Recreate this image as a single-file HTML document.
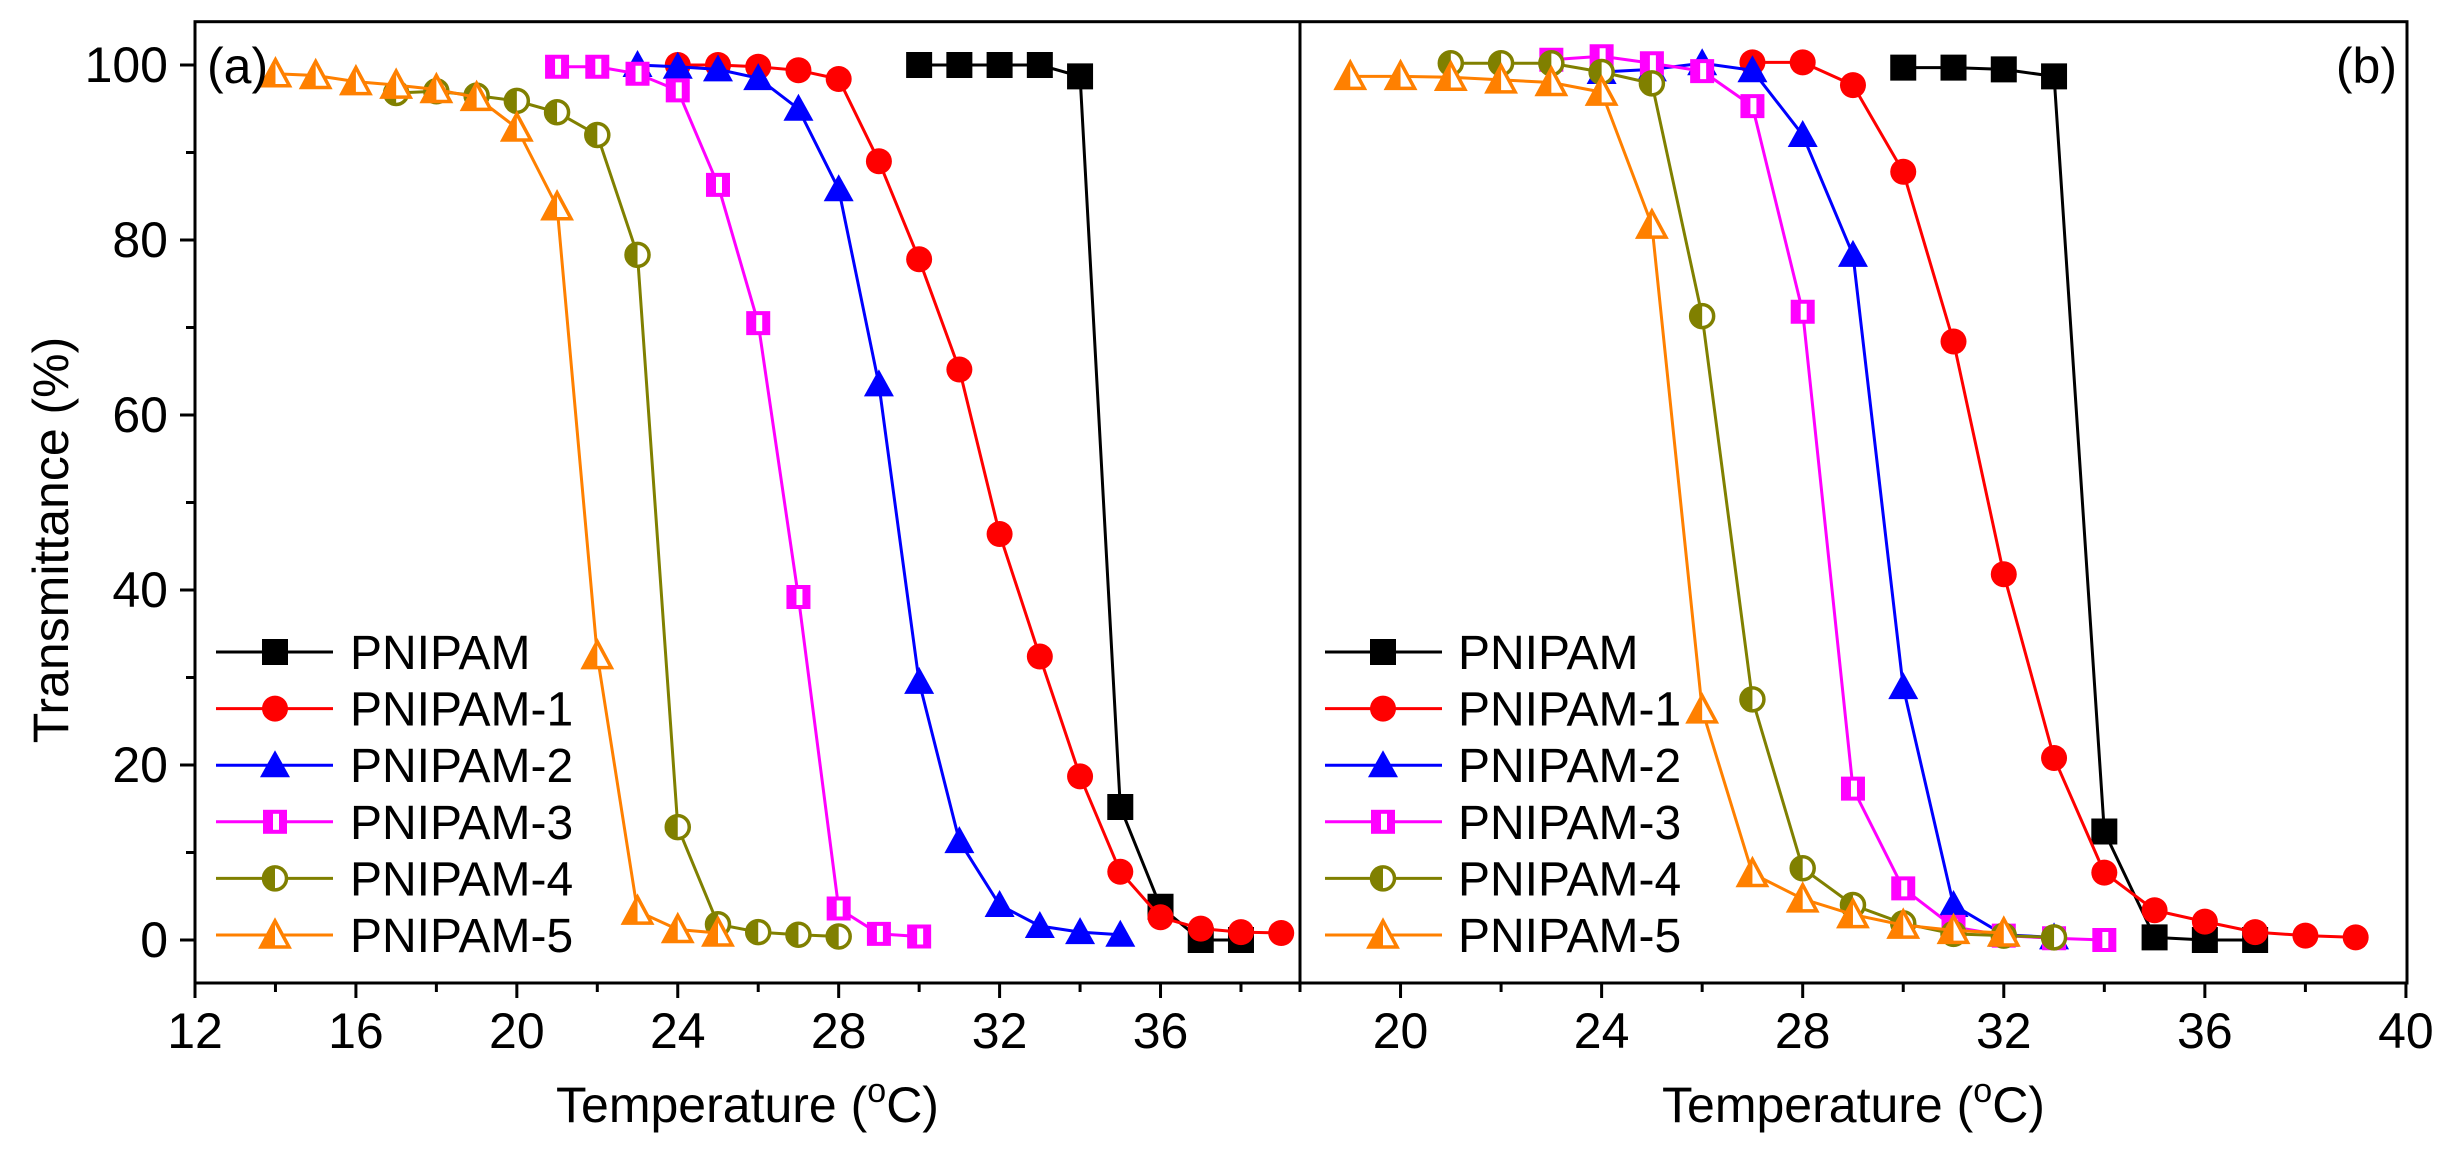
<!DOCTYPE html>
<html><head><meta charset="utf-8"><style>
html,body{margin:0;padding:0;background:#fff;}
svg{display:block;font-family:"Liberation Sans",Arial,sans-serif;}
</style></head><body>
<svg id="chart" width="2460" height="1152" viewBox="0 0 2460 1152" xmlns="http://www.w3.org/2000/svg">
<rect x="0" y="0" width="2460" height="1152" fill="#fff"/>
<g id="plot"></g>
</svg>
<script>
const seriesNames = ["PNIPAM","PNIPAM-1","PNIPAM-2","PNIPAM-3","PNIPAM-4","PNIPAM-5"];
const seriesColors = ["#000000","#ff0000","#0000ff","#ff00ff","#808000","#ff8000"];
const yTicks = [0,20,40,60,80,100];
const xTicksA = [12,16,20,24,28,32,36];
const xTicksB = [20,24,28,32,36,40];

// Panel (a) data
const aX0 = [30,31,32,33,34,35,36,37,38];
const aY0 = [100,100,100,100,98.7,15.2,3.8,0,0];
const aX1 = [24,25,26,27,28,29,30,31,32,33,34,35,36,37,38,39];
const aY1 = [100,100,99.8,99.4,98.4,89,77.8,65.2,46.4,32.4,18.7,7.8,2.6,1.3,0.9,0.8];
const aX2 = [23,24,25,26,27,28,29,30,31,32,33,34,35];
const aY2 = [100,99.8,99.5,98.5,95,85.8,63.5,29.5,11.3,4,1.6,0.9,0.6];
const aX3 = [21,22,23,24,25,26,27,28,29,30];
const aY3 = [99.8,99.8,99,97.1,86.3,70.5,39.2,3.6,0.7,0.4];
const aX4 = [17,18,19,20,21,22,23,24,25,26,27,28];
const aY4 = [96.8,97,96.5,95.9,94.6,92,78.3,12.9,1.8,0.9,0.6,0.4];
const aX5 = [14,15,16,17,18,19,20,21,22,23,24,25];
const aY5 = [99,98.8,98.1,97.7,97.2,96.3,92.8,83.8,32.5,3.3,1.2,0.8];

// Panel (b) data
const bX0 = [30,31,32,33,34,35,36,37];
const bY0 = [99.7,99.7,99.5,98.7,12.4,0.3,0,0];
const bX1 = [27,28,29,30,31,32,33,34,35,36,37,38,39];
const bY1 = [100.3,100.3,97.7,87.8,68.4,41.8,20.8,7.7,3.4,2.1,0.9,0.5,0.3];
const bX2 = [24,25,26,27,28,29,30,31,32,33];
const bY2 = [99.2,99.5,100.2,99.4,92,78.3,28.9,4,0.6,0.3];
const bX3 = [23,24,25,26,27,28,29,30,31,32,33,34];
const bY3 = [100.6,101,100.2,99.3,95.3,71.8,17.3,5.9,1.5,0.5,0.2,0];
const bX4 = [21,22,23,24,25,26,27,28,29,30,31,32,33];
const bY4 = [100.2,100.2,100.2,99.2,97.9,71.3,27.5,8.2,4,1.9,0.7,0.5,0.3];
const bX5 = [19,20,21,22,23,24,25,26,27,28,29,30,31,32];
const bY5 = [98.7,98.7,98.6,98.3,98,96.9,81.7,26.3,7.6,4.7,2.9,1.7,1.1,0.8];

const NS = "http://www.w3.org/2000/svg";
const root = document.getElementById("plot");
function mk(tag, attrs, parent){
  const e = document.createElementNS(NS, tag);
  for (const k in attrs) e.setAttribute(k, attrs[k]);
  (parent||root).appendChild(e);
  return e;
}
const yTop = 21.7, yBot = 983;
function yScale(v){ return 940 + (0 - v) * 8.75; }
const panelA = {x0:195, x1:1300, xmin:12, ppu:40.23, name:"a"};
const panelB = {x0:1300, x1:2407, xmin:18, ppu:50.27, name:"b"};
function xs(p, v){ return p.x0 + (v - p.xmin) * p.ppu; }

function marker(g, type, cx, cy, color){
  let e;
  if (type === 0){
    e = mk("rect",{x:cx-13,y:cy-13,width:26,height:26,fill:color},g);
  } else if (type === 1){
    e = mk("circle",{cx:cx,cy:cy,r:13,fill:color},g);
  } else if (type === 2){
    e = mk("polygon",{points:`${cx},${cy-15} ${cx-15},${cy+12} ${cx+15},${cy+12}`,fill:color},g);
  } else if (type === 3){
    e = mk("rect",{x:cx-12,y:cy-12,width:24,height:24,fill:color},g);
    mk("rect",{x:cx-2,y:cy-8,width:6,height:16,fill:"#fff"},g);
  } else if (type === 4){
    e = mk("circle",{cx:cx,cy:cy,r:11.5,fill:"#fff",stroke:color,"stroke-width":3.5},g);
    mk("path",{d:`M${cx},${cy-12} A12,12 0 0 0 ${cx},${cy+12} Z`,fill:color},g);
  } else {
    e = mk("polygon",{points:`${cx},${cy-14} ${cx-14},${cy+12} ${cx+14},${cy+12}`,fill:"#fff",stroke:color,"stroke-width":3.5,"stroke-linejoin":"miter"},g);
    mk("polygon",{points:`${cx},${cy-14} ${cx-14},${cy+12} ${cx},${cy+12}`,fill:color},g);
  }
  return e;
}

function drawPanel(p, xsArr, ysArr, ticks){
  const g = mk("g",{});
  
  
  for (let s = 0; s < 6; s++){
    const sg = mk("g",{},g);
    
    
    const pts = xsArr[s].map((x,i)=> xs(p,x).toFixed(1)+","+yScale(ysArr[s][i]).toFixed(1)).join(" ");
    const line = mk("polyline",{points:pts,fill:"none",stroke:seriesColors[s],"stroke-width":3},sg);
    
    
    xsArr[s].forEach((x,i)=>{
      const m = marker(sg, s, xs(p,x), yScale(ysArr[s][i]), seriesColors[s]);
      
      
    });
  }
  const minorStart = p.xmin % 2 === 0 ? p.xmin : p.xmin + 1;
  for (let v = minorStart; xs(p,v) <= p.x1 + 0.5; v += 2){
    const isMajor = ticks.indexOf(v) >= 0;
    const t = mk("line",{x1:xs(p,v),x2:xs(p,v),y1:yBot,y2:yBot+(isMajor?15:9),stroke:"#000","stroke-width":3},g);
    
    
  }
  ticks.forEach(v=>{
    const t = mk("text",{x:xs(p,v),y:1048,"font-size":50,"text-anchor":"middle",fill:"#000"},g);
    t.textContent = v;
    
    
  });
  const tt = mk("text",{x:(p.x0+p.x1)/2,y:1122,"font-size":50,"text-anchor":"middle",fill:"#000"},g);
  tt.innerHTML = 'Temperature (<tspan font-size="34" dy="-20">o</tspan><tspan dy="20">C)</tspan>';
  
  
  const lx = p.name === "a" ? [216,333,275,350] : [1325,1442,1383,1458];
  for (let s = 0; s < 6; s++){
    const ly = 652 + s * 56.6;
    const lg = mk("g",{},g);
    
    
    mk("line",{x1:lx[0],x2:lx[1],y1:ly,y2:ly,stroke:seriesColors[s],"stroke-width":3},lg);
    marker(lg, s, lx[2], ly, seriesColors[s]);
    const lt = mk("text",{x:lx[3],y:ly+17,"font-size":48,fill:"#000"},lg);
    lt.textContent = seriesNames[s];
  }
}

drawPanel(panelA,[aX0,aX1,aX2,aX3,aX4,aX5],[aY0,aY1,aY2,aY3,aY4,aY5],xTicksA);
drawPanel(panelB,[bX0,bX1,bX2,bX3,bX4,bX5],[bY0,bY1,bY2,bY3,bY4,bY5],xTicksB);

const fr = mk("rect",{x:195,y:yTop,width:2407-195,height:yBot-yTop,fill:"none",stroke:"#000","stroke-width":3});


const dv = mk("line",{x1:1300,x2:1300,y1:yTop,y2:yBot,stroke:"#000","stroke-width":3});


for (let v = 0; v <= 100; v += 10){
  const isMajor = yTicks.indexOf(v) >= 0;
  const t = mk("line",{x1:195,x2:195-(isMajor?15:9),y1:yScale(v),y2:yScale(v),stroke:"#000","stroke-width":3});
  
  
}
yTicks.forEach(v=>{
  const t = mk("text",{x:168,y:yScale(v)+17,"font-size":50,"text-anchor":"end",fill:"#000"});
  t.textContent = v;
  
  
});
const yt = mk("text",{x:0,y:0,"font-size":50,"text-anchor":"middle",fill:"#000",transform:"translate(68,540) rotate(-90)"});
yt.textContent = "Transmittance (%)";


const la = mk("text",{x:207,y:83,"font-size":50,fill:"#000"});
la.textContent = "(a)";


const lb = mk("text",{x:2397,y:83,"font-size":50,"text-anchor":"end",fill:"#000"});
lb.textContent = "(b)";


</script>
</body></html>
